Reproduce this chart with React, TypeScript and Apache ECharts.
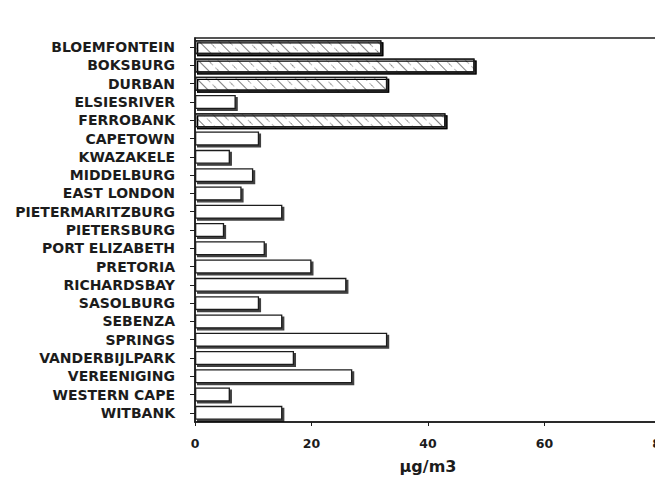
import React, { useEffect, useRef } from "react";
import * as echarts from "echarts";

const categories = [
  "BLOEMFONTEIN", "BOKSBURG", "DURBAN", "ELSIESRIVER", "FERROBANK", "CAPETOWN",
  "KWAZAKELE", "MIDDELBURG", "EAST LONDON", "PIETERMARITZBURG", "PIETERSBURG",
  "PORT ELIZABETH", "PRETORIA", "RICHARDSBAY", "SASOLBURG", "SEBENZA", "SPRINGS",
  "VANDERBIJLPARK", "VEREENIGING", "WESTERN CAPE", "WITBANK",
];
const values = [32, 48, 33, 7, 43, 11, 6, 10, 8, 15, 5, 12, 20, 26, 11, 15, 33, 17, 27, 6, 15];
const hatched = ["BLOEMFONTEIN", "BOKSBURG", "DURBAN", "FERROBANK"];
const xTicks = [0, 20, 40, 60, 80];

export default function App() {
  const ref = useRef<HTMLDivElement>(null);
  useEffect(() => {
    if (!ref.current) return;
    const chart = echarts.init(ref.current, null, { renderer: "svg" });
    const ink = "#1c1c1c";
    chart.setOption({
      animation: false,
      backgroundColor: "#ffffff",
      grid: {
        left: 195, top: 38, width: 466, height: 384,
        outerBoundsMode: "none",
        containLabel: false,
        show: true, borderColor: ink, borderWidth: 1.5, backgroundColor: "transparent",
      },
      xAxis: {
        type: "value",
        min: xTicks[0], max: xTicks[xTicks.length - 1], interval: 20,
        name: "µg/m3", nameLocation: "middle", nameGap: 36,
        nameTextStyle: { fontFamily: "DejaVu Sans", fontWeight: "bold", fontSize: 16, color: ink },
        axisLine: { show: true, lineStyle: { color: ink, width: 1.5 } },
        axisTick: { show: true, length: 4, lineStyle: { color: ink } },
        axisLabel: { margin: 15, fontFamily: "DejaVu Sans", fontWeight: "bold", fontSize: 12.5, color: ink },
        splitLine: { show: false },
      },
      yAxis: {
        type: "category",
        data: categories,
        inverse: true,
        axisLine: { show: true, lineStyle: { color: ink, width: 1.5 } },
        axisTick: { show: true, alignWithLabel: true, length: 5, lineStyle: { color: ink } },
        axisLabel: { margin: 20, fontFamily: "DejaVu Sans", fontWeight: "bold", fontSize: 14, color: ink },
      },
      series: [
        {
          type: "bar",
          barWidth: 14,
          data: values.map((v, i) => ({
            value: v,
            itemStyle: hatched.includes(categories[i])
              ? {
                  decal: {
                    symbol: "rect",
                    symbolSize: 1,
                    dashArrayX: [[4, 6], [1, 0]],
                    dashArrayY: [1, 6],
                    rotation: Math.PI / 4,
                    color: "rgba(0,0,0,0.28)",
                  },
                }
              : {},
          })),
          itemStyle: {
            color: "#ffffff",
            borderColor: ink,
            borderWidth: 1.3,
            shadowColor: "rgba(0,0,0,0.75)",
            shadowOffsetX: 2,
            shadowOffsetY: 2,
            shadowBlur: 0,
          },
        },
      ],
    });
    return () => chart.dispose();
  }, []);
  return <div ref={ref} style={{ width: 655, height: 484, position: "absolute", left: 0, top: 0 }} />;
}
